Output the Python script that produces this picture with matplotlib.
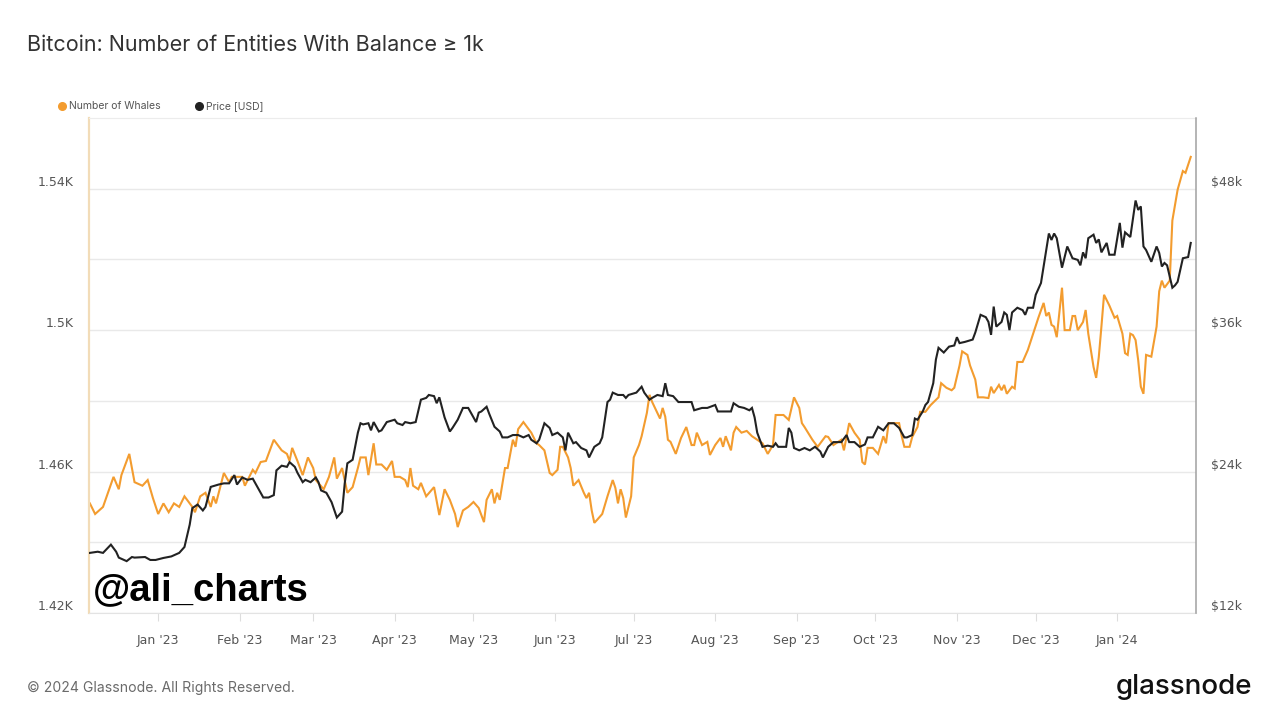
import matplotlib
matplotlib.use("Agg")
import matplotlib.pyplot as plt
import matplotlib.dates as mdates
from matplotlib.lines import Line2D
from matplotlib.ticker import FuncFormatter, FixedLocator
import pandas as pd

# ---- data (days counted from the first point) ----
start = pd.Timestamp("2022-12-06")

whale_days = [
    0, 2, 5, 9, 11, 12, 13, 15, 17, 20,
    22, 24, 26, 28, 30, 32, 34, 36, 39, 40,
    42, 44, 46, 47, 48, 51, 53, 54, 58, 59,
    62, 63, 65, 67, 69, 70, 71, 73, 75, 76,
    77, 79, 81, 83, 85, 86, 89, 91, 93, 94,
    96, 98, 100, 102, 103, 105, 106, 108, 109, 111,
    113, 115, 116, 118, 120, 121, 122, 123, 125, 126,
    128, 131, 133, 135, 137, 139, 140, 142, 144, 146,
    148, 150, 151, 153, 154, 155, 156, 158, 159, 161,
    162, 163, 165, 168, 170, 171, 173, 175, 176, 178,
    179, 180, 182, 183, 184, 186, 188, 189, 190, 191,
    192, 193, 195, 197, 199, 200, 201, 202, 203, 204,
    206, 207, 209, 210, 212, 213, 214, 216, 217, 218,
    219, 220, 221, 223, 225, 227, 229, 230, 231, 233,
    235, 236, 238, 240, 241, 242, 244, 245, 246, 248,
    250, 252, 254, 256, 258, 260, 261, 264, 266, 268,
    270, 271, 272, 275, 277, 278, 280, 281, 283, 284,
    286, 287, 289, 291, 293, 294, 295, 296, 298, 300,
    302, 303, 304, 306, 308, 309, 310, 312, 313, 315,
    316, 318, 320, 323, 324, 326, 328, 329, 331, 332,
    334, 335, 337, 338, 340, 342, 343, 344, 346, 347,
    348, 349, 351, 352, 353, 355, 357, 359, 361, 363,
    364, 365, 366, 367, 368, 370, 371, 373, 374, 375,
    376, 378, 379, 380, 382, 383, 384, 385, 386, 388,
    390, 391, 393, 394, 395, 396, 397, 398, 399, 400,
    401, 402, 404, 406, 407, 408, 409, 411, 412, 414,
    416, 417, 419,
]
whale_counts = [
    1451, 1448, 1450, 1458.5, 1455, 1459, 1461, 1465, 1457, 1456,
    1457.6, 1452.5, 1448, 1451, 1448.5, 1451, 1450, 1453, 1450, 1448.5,
    1453, 1454, 1450, 1453, 1451, 1459.6, 1457, 1458.5, 1458.5, 1456,
    1460.5, 1459.6, 1462.7, 1463, 1467, 1469, 1468, 1466, 1465, 1463,
    1466.7, 1463, 1459, 1464, 1461, 1457.6, 1455, 1458.5, 1464, 1458,
    1461, 1454, 1455.6, 1461, 1464, 1464, 1459, 1468, 1462, 1462,
    1460.5, 1463, 1458.5, 1458.5, 1457.6, 1455.6, 1461, 1456, 1455, 1456.8,
    1453, 1455.6, 1447.7, 1455, 1452, 1448, 1444.3, 1449, 1450, 1451.4,
    1449.7, 1445.7, 1452, 1455, 1451, 1454, 1452, 1461, 1461, 1469,
    1467, 1472, 1474, 1471, 1468, 1467.5, 1466, 1459.6, 1459, 1460.5,
    1467, 1467, 1464, 1461, 1456, 1457.6, 1454, 1452.5, 1454, 1449,
    1445.5, 1446.3, 1448, 1453, 1457.6, 1455.4, 1451, 1455, 1452.5, 1447,
    1453, 1464, 1467.5, 1470, 1476.6, 1481.7, 1479.7, 1476.6, 1475, 1478,
    1475.5, 1469, 1468.4, 1465, 1469.5, 1472.6, 1467.5, 1467.5, 1471, 1467.5,
    1468.4, 1464.7, 1467.5, 1469.5, 1467, 1470, 1466, 1471, 1472.6, 1471,
    1471.5, 1470, 1469, 1468, 1465, 1467.5, 1476, 1476, 1474.6, 1481,
    1478, 1473.7, 1472.6, 1469, 1467, 1468, 1470, 1469.8, 1467.5, 1468,
    1469, 1466, 1473.7, 1471, 1469, 1462.7, 1462, 1466.7, 1466.7, 1465,
    1470, 1468, 1473.7, 1473.7, 1473.7, 1470, 1467, 1467, 1469.8, 1472.6,
    1476.9, 1476.9, 1478.8, 1481, 1485, 1483.7, 1483, 1483.7, 1490, 1494,
    1493, 1490, 1486, 1481, 1481, 1480.8, 1484, 1482.2, 1484.5, 1483,
    1484.5, 1482, 1484, 1483.5, 1491, 1491, 1494.4, 1499, 1503.5, 1507.7,
    1504, 1505, 1501.5, 1501, 1498, 1512, 1500, 1500, 1504, 1504,
    1500, 1502.3, 1505.7, 1499, 1489.6, 1486.5, 1492.4, 1501, 1510, 1507,
    1503.5, 1504, 1499, 1493.5, 1493, 1499, 1498.6, 1497.2, 1491.5, 1484,
    1482, 1493, 1492.5, 1501, 1511, 1514, 1512, 1514, 1531, 1539.7,
    1545, 1544.5, 1549,
]

price_days = [
    0, 3, 5, 8, 10, 11, 14, 16, 17, 21,
    23, 25, 28, 31, 34, 36, 38, 39, 41, 43,
    44, 46, 49, 51, 53, 55, 56, 58, 60, 62,
    64, 66, 68, 70, 71, 73, 75, 76, 78, 79,
    81, 82, 84, 86, 87, 88, 90, 92, 94, 96,
    97, 98, 100, 102, 103, 104, 106, 107, 108, 110,
    111, 113, 116, 117, 119, 120, 122, 124, 126, 128,
    129, 131, 132, 133, 135, 137, 138, 140, 142, 144,
    146, 147, 148, 149, 151, 152, 154, 156, 157, 159,
    161, 163, 165, 167, 168, 170, 171, 173, 175, 176,
    178, 180, 181, 182, 184, 185, 187, 189, 190, 192,
    194, 195, 197, 198, 199, 201, 203, 204, 205, 208,
    210, 211, 213, 214, 216, 218, 219, 220, 222, 224,
    227, 229, 230, 233, 235, 238, 239, 242, 244, 245,
    247, 249, 251, 252, 253, 254, 256, 258, 260, 261,
    262, 265, 266, 267, 268, 270, 272, 274, 276, 278,
    279, 281, 283, 286, 288, 289, 291, 293, 295, 296,
    298, 300, 302, 303, 304, 306, 308, 310, 311, 313,
    314, 315, 317, 318, 319, 321, 322, 323, 325, 327,
    329, 330, 331, 333, 336, 337, 339, 341, 342, 343,
    344, 345, 347, 348, 349, 350, 351, 353, 355, 356,
    357, 359, 360, 362, 364, 365, 366, 367, 368, 370,
    371, 372, 374, 376, 377, 378, 379, 380, 382, 383,
    384, 385, 387, 388, 390, 392, 393, 394, 396, 398,
    399, 400, 401, 402, 404, 406, 407, 408, 409, 410,
    412, 413, 414, 416, 418, 419,
]
# BTC price in thousands of USD
price_k = [
    17.1, 17.2, 17.1, 17.8, 17.2, 16.7, 16.4, 16.75, 16.7, 16.75,
    16.5, 16.5, 16.67, 16.8, 17.1, 17.6, 19.5, 20.9, 21.2, 20.7,
    21.0, 22.7, 22.9, 23.0, 23.0, 23.7, 22.9, 23.5, 23.3, 23.4,
    22.6, 21.8, 21.8, 22.0, 24.1, 24.5, 24.4, 24.8, 24.4, 23.9,
    23.1, 23.3, 23.1, 23.5, 23.1, 22.4, 22.2, 21.4, 20.1, 20.6,
    23.0, 24.7, 25.0, 27.3, 28.1, 28.0, 28.1, 27.5, 28.2, 27.4,
    27.5, 28.2, 28.4, 28.1, 27.95, 28.2, 28.1, 28.2, 30.1, 30.25,
    30.5, 30.4, 29.8, 30.3, 28.6, 27.4, 27.7, 28.4, 29.4, 29.4,
    28.6, 28.2, 29.0, 29.1, 29.5, 28.9, 27.8, 27.4, 26.9, 26.9,
    27.1, 27.1, 26.9, 27.1, 26.7, 26.4, 26.7, 28.1, 27.7, 27.1,
    27.3, 26.9, 25.8, 27.3, 26.4, 26.5, 26.0, 25.8, 25.2, 26.1,
    26.4, 26.9, 29.9, 30.1, 30.7, 30.5, 30.5, 30.25, 30.5, 30.7,
    31.2, 30.7, 30.1, 30.25, 30.5, 30.4, 31.5, 30.5, 30.4, 29.9,
    29.9, 29.9, 29.2, 29.4, 29.4, 29.65, 29.1, 29.1, 29.1, 29.8,
    29.5, 29.4, 29.2, 29.4, 28.6, 27.3, 26.1, 26.2, 26.1, 26.4,
    26.1, 26.1, 27.7, 27.3, 26.0, 25.8, 26.0, 25.8, 26.1, 25.7,
    25.2, 26.1, 26.5, 26.5, 27.1, 26.5, 26.5, 26.1, 26.3, 26.9,
    26.9, 27.8, 27.5, 27.8, 28.1, 28.1, 27.7, 26.9, 26.9, 27.1,
    28.5, 28.4, 29.1, 29.65, 29.9, 31.5, 33.5, 34.5, 34.1, 34.6,
    34.7, 35.4, 34.9, 35.0, 35.2, 35.8, 37.3, 37.1, 36.7, 35.6,
    38.0, 36.3, 36.7, 37.5, 37.3, 36.0, 37.5, 37.9, 37.7, 37.3,
    37.9, 37.9, 39.0, 40.0, 42.8, 44.2, 43.65, 44.2, 43.8, 41.3,
    42.2, 43.1, 42.1, 41.96, 41.5, 42.6, 42.1, 43.8, 44.1, 43.4,
    43.7, 42.6, 43.4, 42.4, 42.4, 45.1, 43.0, 44.3, 43.9, 47.0,
    46.2, 46.5, 43.1, 42.8, 41.8, 43.1, 42.55, 41.4, 41.7, 41.5,
    39.6, 39.8, 40.1, 42.1, 42.2, 43.4,
]

whale_ticks = [1420, 1460, 1500, 1540]
whale_grid = [1420, 1440, 1460, 1480, 1500, 1520, 1540]
price_ticks = [12, 24, 36, 48]

whale_dates = start + pd.to_timedelta(whale_days, unit="D")
price_dates = start + pd.to_timedelta(price_days, unit="D")

ORANGE = "#f39c2f"
DARK = "#222222"
GRID = "#e9e9e9"
LABEL = "#555555"

fig = plt.figure(figsize=(12.8, 7.2), dpi=100)
fig.patch.set_facecolor("white")

ax = fig.add_axes([89 / 1280, 1 - 613 / 720, (1196 - 89) / 1280, (613 - 118) / 720])
ax2 = ax.twinx()

ax.plot(whale_dates, whale_counts, color=ORANGE, lw=1.5, solid_joinstyle="miter")
ax2.plot(price_dates, price_k, color=DARK, lw=1.5, solid_joinstyle="miter")

ax.set_xlim(start - pd.Timedelta(hours=8), start + pd.Timedelta(days=421))
ax.set_ylim(1420, 1560)
ax2.set_ylim(12, 54)

# left axis: labels every 40, grid every 20
ax.yaxis.set_major_locator(FixedLocator(whale_ticks))
ax.yaxis.set_minor_locator(FixedLocator(whale_grid))
ax.yaxis.set_major_formatter(FuncFormatter(lambda v, p: f"{v / 1000:g}K"))
ax.grid(True, axis="y", which="both", color=GRID, lw=1)
ax.set_axisbelow(True)
ax.tick_params(axis="y", which="both", length=0, pad=11, labelsize=9, labelcolor=LABEL)
for lbl in ax.get_yticklabels():
    lbl.set_verticalalignment("bottom")

# right axis: price
ax2.set_yticks(price_ticks)
ax2.yaxis.set_major_formatter(FuncFormatter(lambda v, p: f"${v:.0f}k"))
ax2.tick_params(axis="y", length=0, pad=11, labelsize=9, labelcolor=LABEL)
for lbl in ax2.get_yticklabels():
    lbl.set_verticalalignment("bottom")

# x axis: months
ax.xaxis.set_major_locator(mdates.MonthLocator())
ax.xaxis.set_major_formatter(mdates.DateFormatter("%b '%y"))
ax.tick_params(axis="x", length=6, color="#dddddd", pad=9, labelsize=9, labelcolor=LABEL)

# spines
ax.spines["left"].set_color("#f2dcb8")
ax.spines["left"].set_linewidth(1.6)
ax.spines["top"].set_color("#ececec")
ax.spines["bottom"].set_color("#e3e3e3")
ax.spines["right"].set_visible(False)
for s in ["left", "top", "bottom"]:
    ax2.spines[s].set_visible(False)
ax2.spines["right"].set_color("#a0a0a0")
ax2.spines["right"].set_linewidth(1.1)

# title
fig.text(27 / 1280, 1 - 45 / 720, "Bitcoin: Number of Entities With Balance \u2265 1k",
         fontsize=15.5, family=["Inter", "DejaVu Sans"], color="#333333", va="center", ha="left")

# legend
fig.add_artist(Line2D([62 / 1280], [1 - 106 / 720], marker="o", markersize=5.5,
                      color=ORANGE, transform=fig.transFigure))
fig.text(69 / 1280, 1 - 106 / 720, "Number of Whales", fontsize=7.5,
         family="Inter", color=LABEL, va="center")
fig.add_artist(Line2D([199 / 1280], [1 - 106 / 720], marker="o", markersize=5.5,
                      color=DARK, transform=fig.transFigure))
fig.text(206 / 1280, 1 - 106 / 720, "Price [USD]", fontsize=7.5,
         family="Inter", color=LABEL, va="center")

# watermark
fig.text(93 / 1280, 1 - 590 / 720, "@ali_charts", fontsize=27.5, fontweight="bold",
         family="Liberation Sans", color="black", va="center", ha="left", zorder=10)

# footer
fig.text(27 / 1280, 1 - 688 / 720, "\u00a9 2024 Glassnode. All Rights Reserved.",
         fontsize=10.1, family="Inter", color="#6b6b6b", va="center", ha="left")
fig.text(1252 / 1280, 1 - 687 / 720, "glassnode", fontsize=20, family="Inter",
         fontweight="medium", color="#111111", va="center", ha="right")

plt.savefig("out.png", dpi=100, facecolor="white")
plt.close()
